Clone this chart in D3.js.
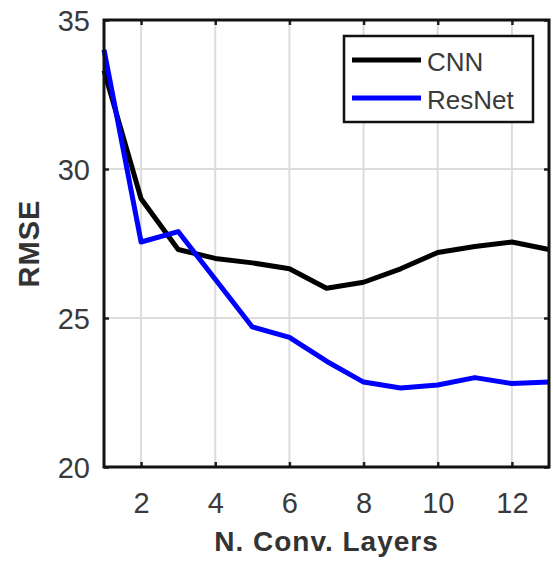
<!DOCTYPE html>
<html><head><meta charset="utf-8">
<script src="https://cdn.jsdelivr.net/npm/d3@7"></script>
<style>body{margin:0;background:#fff}svg{display:block}</style>
</head><body>
<script>
const layers = [1,2,3,4,5,6,7,8,9,10,11,12,13];
const cnn    = [33.3,29.0,27.3,27.0,26.85,26.65,26.0,26.2,26.65,27.2,27.4,27.55,27.3];
const resnet = [34.0,27.55,27.9,26.3,24.7,24.35,23.55,22.85,22.65,22.75,23.0,22.8,22.85];
const xTicks = [2,4,6,8,10,12];
const yTicks = [20,25,30,35];
const seriesNames = ["CNN","ResNet"];
const seriesColors = ["#000000","#0000ff"];

const W=553,H=564;
const m={l:104,r:4,t:20,b:97};
const svg=d3.select("body").append("svg").attr("width",W).attr("height",H);
const x=d3.scaleLinear().domain([1,13]).range([m.l,W-m.r]);
const y=d3.scaleLinear().domain([20,35]).range([H-m.b,m.t]);
const font="'Liberation Sans', Arial, sans-serif";

// grid
svg.append("g").selectAll("line").data(xTicks).join("line")
 .attr("x1",d=>x(d)).attr("x2",d=>x(d)).attr("y1",y(20)).attr("y2",y(35))
 .attr("stroke","#dcdcdc").attr("stroke-width",2);
svg.append("g").selectAll("line").data(yTicks).join("line")
 .attr("y1",d=>y(d)).attr("y2",d=>y(d)).attr("x1",x(1)).attr("x2",x(13))
 .attr("stroke","#dcdcdc").attr("stroke-width",2);

// axes
const xa=svg.append("g").attr("transform",`translate(0,${y(20)})`)
 .call(d3.axisBottom(x).tickValues(xTicks).tickSize(-5));
xa.selectAll(".tick text").attr("y",46).attr("dy",0);
const ya=svg.append("g").attr("transform",`translate(${x(1)},0)`)
 .call(d3.axisLeft(y).tickValues(yTicks).tickSize(-5));
ya.selectAll(".tick text").attr("x",-14).attr("dy","0.36em");
svg.append("g").attr("transform",`translate(0,${y(35)})`)
 .call(d3.axisTop(x).tickValues(xTicks).tickSize(-5).tickFormat(""));
svg.append("g").attr("transform",`translate(${x(13)},0)`)
 .call(d3.axisRight(y).tickValues(yTicks).tickSize(-5).tickFormat(""));
svg.selectAll(".domain").remove();
svg.selectAll(".tick line").attr("stroke","#222").attr("stroke-width",2.5);
svg.selectAll(".tick text").attr("font-family",font).attr("font-size",29).attr("fill","#3a3a3a");

// lines
const line=d3.line().x((d,i)=>x(layers[i])).y(d=>y(d));
[cnn,resnet].forEach((s,i)=>{
 svg.append("path").datum(s).attr("d",line).attr("fill","none")
  .attr("stroke",seriesColors[i]).attr("stroke-width",5).attr("stroke-linejoin","round");
});

// frame
svg.append("rect").attr("x",x(1)).attr("y",y(35)).attr("width",x(13)-x(1)).attr("height",y(20)-y(35))
 .attr("fill","none").attr("stroke","#111").attr("stroke-width",3);

// legend
const lg=svg.append("g");
lg.append("rect").attr("x",344).attr("y",36).attr("width",189).attr("height",86)
 .attr("fill","#fff").attr("stroke","#111").attr("stroke-width",2.5);
seriesNames.forEach((n,i)=>{
 const yy=60+i*38;
 lg.append("line").attr("x1",352).attr("x2",421).attr("y1",yy).attr("y2",yy)
  .attr("stroke",seriesColors[i]).attr("stroke-width",5);
 lg.append("text").attr("x",427).attr("y",yy+11).text(n)
  .attr("font-family",font).attr("font-size",26).attr("fill","#3a3a3a");
});

// titles
svg.append("text").attr("x",(x(1)+x(13))/2).attr("y",551).attr("text-anchor","middle")
 .attr("font-family",font).attr("font-weight","bold").attr("font-size",28)
 .attr("letter-spacing","1px").attr("fill","#333")
 .text("N. Conv. Layers");
svg.append("text").attr("transform",`translate(39,${(y(20)+y(35))/2}) rotate(-90)`)
 .attr("text-anchor","middle").attr("font-family",font).attr("font-weight","bold")
 .attr("font-size",29).attr("letter-spacing","1px").attr("fill","#333").text("RMSE");
</script>
</body></html>
